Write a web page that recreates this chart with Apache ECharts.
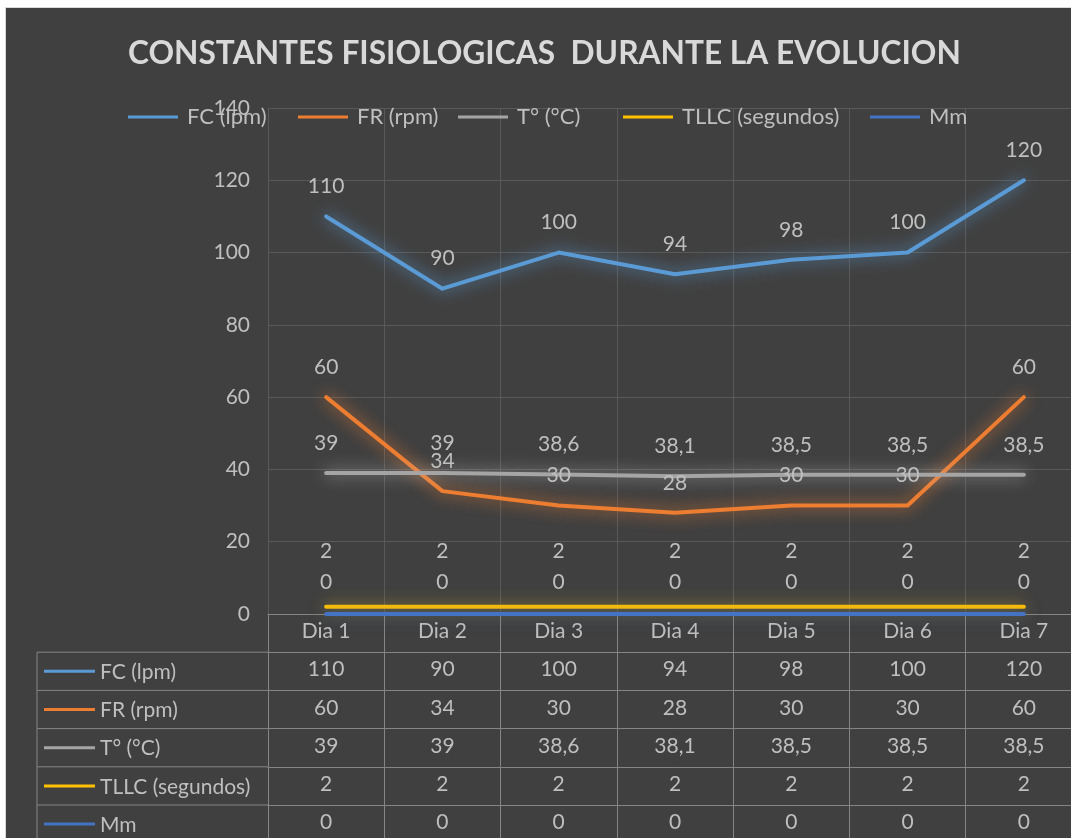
<!DOCTYPE html>
<html lang="es">
<head>
    <meta charset="UTF-8">
    <title>Constantes fisiologicas</title>
    <script src="https://cdn.jsdelivr.net/npm/echarts@6/dist/echarts.min.js"></script>
    <style>
        html, body { margin: 0; background: #ffffff; overflow: hidden; width: 1071px; height: 838px; }
        #frame { position: absolute; left: 5px; top: 7px; width: 1080px; height: 831px; background: #d9d9d9; }
        #main { position: absolute; left: 6px; top: 8px; width: 1076px; height: 830px; }
    </style>
</head>
<body>
    <div id="frame"></div>
    <div id="main"></div>
<script>
    // datos
    var dias = ['Dia 1', 'Dia 2', 'Dia 3', 'Dia 4', 'Dia 5', 'Dia 6', 'Dia 7'];
    var fc = [110, 90, 100, 94, 98, 100, 120];
    var fr = [60, 34, 30, 28, 30, 30, 60];
    var temp = [39, 39, 38.6, 38.1, 38.5, 38.5, 38.5];
    var tllc = [2, 2, 2, 2, 2, 2, 2];
    var mm = [0, 0, 0, 0, 0, 0, 0];
    var nombres = ['FC (lpm)', 'FR (rpm)', 'T° (°C)', 'TLLC (segundos)', 'Mm'];
    var colores = ['#5b9bd5', '#ed7d31', '#a5a5a5', '#ffc000', '#4472c4'];
    var valores = [fc, fr, temp, tllc, mm];

    var txt = '#bfbfbf';
    var borde = '#858585';
    var fuente = 'Lato';
    var fs = 21;
    var rowH = 38.2;
    var gridBottomY = 606;   // y del eje x dentro del canvas

    function fmt(v) { return String(v).replace('.', ','); }

    var myChart = echarts.init(document.getElementById('main'));

    var series = [];
    var labelDist = [19, 19, 19, 45, 21];
    var glow = ['rgba(91,155,213,1)', 'rgba(237,125,49,1)', 'rgba(200,200,200,0.8)', 'rgba(255,192,0,0.6)', 'rgba(68,114,196,0.5)'];
    for (var i = 0; i < nombres.length; i++) {
        series.push({
            name: nombres[i],
            type: 'line',
            data: valores[i],
            symbol: 'circle',
            symbolSize: 1,
            showSymbol: true,
            clip: false,
            color: colores[i],
            itemStyle: { color: 'rgba(0,0,0,0)', borderWidth: 0 },
            lineStyle: { width: 4, cap: 'round', join: 'round', color: colores[i], shadowBlur: 16, shadowColor: glow[i] },
            label: {
                show: true, position: 'top', distance: labelDist[i],
                color: txt, fontSize: fs, fontFamily: fuente,
                formatter: function (p) { return fmt(p.value); }
            }
        });
    }

    // ejes x: categorias + una fila por serie (tabla de datos)
    var xAxes = [{
        type: 'category',
        data: dias,
        boundaryGap: true,
        axisLine: { show: true, lineStyle: { color: borde, width: 1 } },
        axisTick: { show: true, length: rowH, lineStyle: { color: borde } },
        axisLabel: { interval: 0, margin: 7, color: txt, fontSize: fs, fontFamily: fuente },
        splitLine: { show: true, lineStyle: { color: '#595959' } }
    }];
    valores.forEach(function (fila, k) {
        xAxes.push({
            type: 'category',
            data: dias,
            position: 'bottom',
            offset: rowH * (k + 1),
            axisLine: { show: true, lineStyle: { color: borde, width: 1 } },
            axisTick: { show: true, length: rowH, lineStyle: { color: borde } },
            axisLabel: {
                interval: 0, margin: 7, color: txt, fontSize: fs, fontFamily: fuente,
                formatter: function (v, idx) { return fmt(fila[idx]); }
            },
            splitLine: { show: false }
        });
    });

    // columna izquierda de la tabla
    var graphic = [];
    graphic.push({ type: 'line', shape: { x1: 31, y1: gridBottomY + rowH, x2: 31, y2: 830 }, style: { stroke: borde, lineWidth: 1 } });
    for (var k = 0; k < nombres.length; k++) {
        var y0 = gridBottomY + rowH * (k + 1);
        graphic.push({ type: 'line', shape: { x1: 31, y1: y0, x2: 262, y2: y0 }, style: { stroke: borde, lineWidth: 1 } });
        graphic.push({ type: 'line', shape: { x1: 38, y1: y0 + rowH / 2, x2: 89, y2: y0 + rowH / 2 }, style: { stroke: colores[k], lineWidth: 3 } });
        graphic.push({ type: 'text', x: 94, y: y0 + rowH / 2 + 1, style: { text: nombres[k], fill: txt, font: fs + 'px ' + fuente, verticalAlign: 'middle' } });
    }

    var legendLeft = [122, 292, 452, 617, 864];
    var legends = nombres.map(function (n, k) {
        return {
            data: [{ name: n, itemStyle: { color: colores[k] } }],
            left: legendLeft[k], top: 98, padding: 0, itemWidth: 50, itemHeight: 3,
            icon: 'rect', itemGap: 0,
            textStyle: { color: txt, fontSize: 22, fontFamily: fuente, padding: [0, 0, 0, 4] }
        };
    });

    var option = {
        backgroundColor: '#404040',
        animation: false,
        title: {
            text: 'CONSTANTES FISIOLOGICAS  DURANTE LA EVOLUCION',
            left: 122, top: 30, padding: 0,
            textStyle: { color: '#d9d9d9', fontSize: 31.7, fontWeight: 'bold', fontFamily: fuente }
        },
        legend: legends,
        grid: { left: 262, right: 0, top: 100, bottom: 224, containLabel: false },
        xAxis: xAxes,
        yAxis: {
            type: 'value', min: 0, max: 140, interval: 20,
            axisLine: { show: false }, axisTick: { show: false },
            axisLabel: { color: txt, fontSize: fs, fontFamily: fuente, margin: 18 },
            splitLine: { lineStyle: { color: '#595959' } }
        },
        graphic: graphic,
        series: series
    };

    myChart.setOption(option);
</script>
</body>
</html>
